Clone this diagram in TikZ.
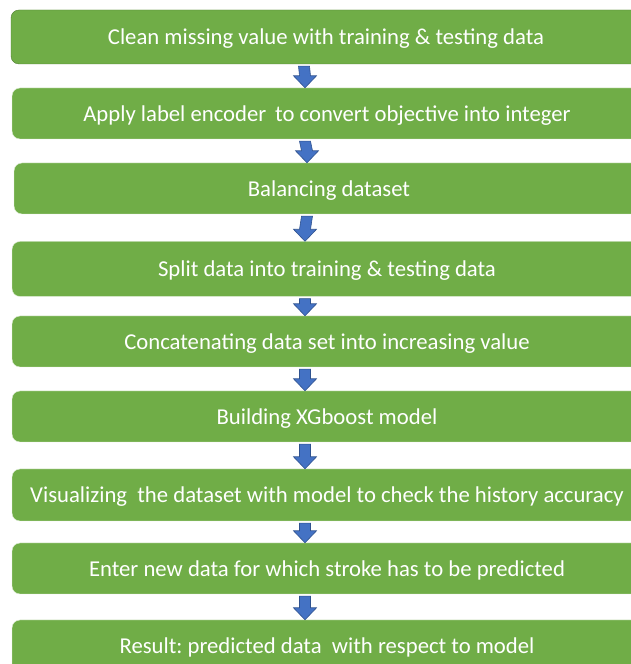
\documentclass[tikz,border=0pt]{standalone}
\usepackage{fontspec}
\setmainfont{Carlito}
\usetikzlibrary{calc}
\frenchspacing

\definecolor{boxgreen}{RGB}{112,173,71}
\definecolor{boxedge}{RGB}{80,126,50}
\definecolor{arrblue}{RGB}{68,114,196}
\definecolor{arredge}{RGB}{47,82,143}

\tikzset{
  stepbox/.style={draw=white!80!boxgreen, fill=boxgreen, rounded corners=8pt,
    minimum width=630pt, inner sep=0pt, text=white,
    text height=20pt, text depth=4pt,
    font=\fontsize{22.7}{26}\selectfont},
  blockarr/.style={fill=arrblue, draw=arredge, line width=0.6pt, line join=miter}
}

\begin{document}
\begin{tikzpicture}[x=1pt, y=1pt]
    \useasboundingbox (0,0) rectangle (631,664);
    \clip (0,0) rectangle (631,664);
    \fill[white] (0,0) rectangle (631,664);

    \node[stepbox, draw=boxedge, minimum height=54pt] (clean) at (326,627) {Clean missing value with training \& testing data};
    \node[stepbox, minimum height=51pt] (encode) at (327,550.5) {Apply label encoder\, to convert objective into integer};
    \node[stepbox, minimum height=51pt] (balance) at (329,475.5) {Balancing dataset};
    \node[stepbox, minimum height=55pt] (split) at (327,395) {Split data into training \& testing data};
    \node[stepbox, minimum height=51pt] (concat) at (327,322.5) {Concatenating data set into increasing value};
    \node[stepbox, minimum height=51pt] (xgb) at (327,247.5) {Building XGboost model};
    \node[stepbox, minimum height=52pt] (visual) at (327,169) {Visualizing\ \ the dataset with model to check the history accuracy};
    \node[stepbox, minimum height=51pt] (newdata) at (327,95.5) {Enter new data for which stroke has to be predicted};
    \node[stepbox, minimum height=52pt] (result) at (327,18) {Result: predicted data\ \ with respect to model};

    % block arrows between the steps
    \foreach \a/\b in {clean/encode, encode/balance, balance/split, split/concat,
                       concat/xgb, xgb/visual, visual/newdata, newdata/result}{
      \path ($(\a.south)+(-22,-2)$) coordinate (s) ($(\b.north)+(-22,0)$) coordinate (t);
      \draw[blockarr] ($(s)+(-5.5,0)$) -- ($(t)+(-5.5,12)$) -- ($(t)+(-11.5,12)$) -- (t)
        -- ($(t)+(11.5,12)$) -- ($(t)+(5.5,12)$) -- ($(s)+(5.5,0)$) -- cycle;
    }
  \end{tikzpicture}
\end{document}
